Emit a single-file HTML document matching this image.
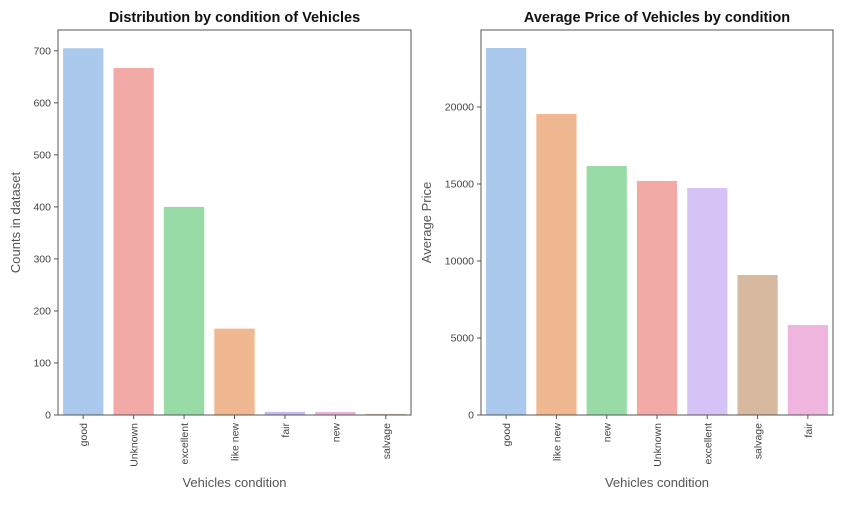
<!DOCTYPE html>
<html><head><meta charset="utf-8"><style>
body{margin:0;background:#fff;}
svg text{font-family:"Liberation Sans",sans-serif;}
</style></head><body>
<svg id="c" width="843" height="500" xmlns="http://www.w3.org/2000/svg"></svg>
<script>
const leftCats=["good","Unknown","excellent","like new","fair","new","salvage"];
const leftVals=[705,667,400,166,6,6,2];
const leftColors=["#abc8ed","#f2aaa7","#99dba6","#f0b890","#c9b9ef","#eab3d9","#d5b99f"];
const leftTicks=[0,100,200,300,400,500,600,700];
const rightCats=["good","like new","new","Unknown","excellent","salvage","fair"];
const rightVals=[23830,19550,16170,15200,14740,9090,5840];
const rightColors=["#abc8ed","#f0b890","#99dba6","#f2aaa7","#d5c3f6","#d6b99f","#f0b5de"];
const rightTicks=[0,5000,10000,15000,20000];
const NS="http://www.w3.org/2000/svg";
const svg=document.getElementById('c');
function mk(t,a,p){const e=document.createElementNS(NS,t);for(const k in a)e.setAttribute(k,a[k]);(p||svg).appendChild(e);return e;}
function panel(id,x0,x1,y0,y1,ymax,cats,vals,cols,ticks,title,ylab,ylx){
  const g=mk('g',{});
  
  
  const ys=v=>y1-(v/ymax)*(y1-y0);
  const step=(x1-x0)/cats.length;
  const xs=i=>x0+step*(i+0.5);
  cats.forEach((c,i)=>{
    const r=mk('rect',{x:xs(i)-step*0.4,y:ys(vals[i]),width:step*0.8,height:y1-ys(vals[i]),fill:cols[i]},g);
    
    
    mk('line',{x1:xs(i),x2:xs(i),y1:y1,y2:y1+4,stroke:'#555'},g);
    const t=mk('text',{transform:`translate(${xs(i)+4},${y1+8}) rotate(-90)`,'text-anchor':'end','font-size':10.5,fill:'#444'},g);
    t.textContent=c;
    
    
  });
  ticks.forEach(v=>{
    mk('line',{x1:x0-4,x2:x0,y1:ys(v),y2:ys(v),stroke:'#555'},g);
    const t=mk('text',{x:x0-7,y:ys(v)+3.5,'text-anchor':'end','font-size':10.5,fill:'#444'},g);
    t.textContent=v;
    
    
  });
  const fr=mk('rect',{x:x0,y:y0,width:x1-x0,height:y1-y0,fill:'none',stroke:'#555','stroke-width':1},g);
  
  
  const tt=mk('text',{x:(x0+x1)/2,y:22,'text-anchor':'middle','font-size':14.5,'font-weight':'bold',fill:'#111'},g);
  tt.textContent=title;
  
  
  const xl=mk('text',{x:(x0+x1)/2,y:487,'text-anchor':'middle','font-size':13,fill:'#555'},g);
  xl.textContent='Vehicles condition';
  
  
  const yl=mk('text',{transform:`translate(${ylx},${(y0+y1)/2}) rotate(-90)`,'text-anchor':'middle','font-size':13,fill:'#555'},g);
  yl.textContent=ylab;
  
  
}
panel('left-panel',58,411,30,415,740,leftCats,leftVals,leftColors,leftTicks,'Distribution by condition of Vehicles','Counts in dataset',20);
panel('right-panel',481,833,30,415,25000,rightCats,rightVals,rightColors,rightTicks,'Average Price of Vehicles by condition','Average Price',431);
</script>
</body></html>
